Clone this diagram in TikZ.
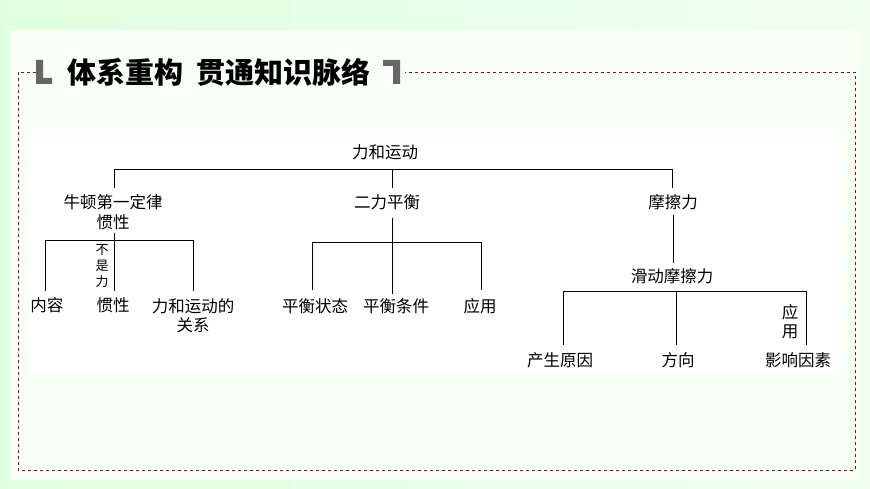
\documentclass[tikz,border=0pt]{standalone}
\usepackage{fontspec}
\newfontfamily\cjk{Noto Sans CJK SC}
\begin{document}
\begin{tikzpicture}[x=1pt,y=-1pt,
  t/.style={font=\cjk\fontsize{16.5}{19}\selectfont,inner sep=0pt,text=black},
  ln/.style={draw=black,line width=0.9pt}]
\useasboundingbox (0,0) rectangle (870,489);
\shade[left color=green!12,right color=green!6] (0,0) rectangle (870,489);
\fill[white!60!green!8] (10,30) rectangle (860,480);
\fill[white] (30,135) rectangle (840,375);
\draw[red!70!black,dashed,line width=0.7pt] (36,72) -- (18,72) -- (18,470) -- (855,470) -- (855,72) -- (405,72);
% title
\fill[gray!80!black] (36,60) rectangle (43,84) (36,78) rectangle (52,84);
\fill[gray!80!black] (393,60) rectangle (400,84) (383,60) rectangle (400,66);
\node[font=\cjk\bfseries\fontsize{29}{32}\selectfont,inner sep=0pt] (title) at (219,72) {体系重构\ \ 贯通知识脉络};
% nodes
\node[t] (root) at (385,152) {力和运动};
\node[t] (n1) at (113,202) {牛顿第一定律};
\node[t] (n1b) at (113,222) {惯性};
\node[t] (n2) at (387,202) {二力平衡};
\node[t] (n3) at (673,202) {摩擦力};
\node[t] (a1) at (47,305) {内容};
\node[t] (a2) at (113,305) {惯性};
\node[t,align=center] (a3) at (193,316) {力和运动的\\关系};
\node[t,align=center,font=\cjk\fontsize{13}{16}\selectfont] (l1) at (102,266) {不\\是\\力};
\node[t] (b1) at (315,306) {平衡状态};
\node[t] (b2) at (396,306) {平衡条件};
\node[t] (b3) at (480,306) {应用};
\node[t] (c0) at (672,276) {滑动摩擦力};
\node[t] (c1) at (560,360) {产生原因};
\node[t] (c2) at (678,360) {方向};
\node[t] (c3) at (798,360) {影响因素};
\node[t,align=center] (l2) at (790,322) {应\\用};
\coordinate (h1) at (114,169); \coordinate (h2) at (672,169); \coordinate (hm) at (392,169);
% connectors
\draw[ln] (114,188) -- (h1) -- (h2) -- (672,188);
\draw[ln] (hm) -- (392,188);
\draw[ln] (45,291) -- (45,240) -- (193,240) -- (193,291);
\draw[ln] (114,233) -- (114,291);
\draw[ln] (392,218) -- (392,294);
\draw[ln] (312,290) -- (312,242) -- (481,242) -- (481,290);
\draw[ln] (673,215) -- (673,263);
\draw[ln] (563,345) -- (563,291) -- (806,291) -- (806,345);
\draw[ln] (676,291) -- (676,345);
\end{tikzpicture}
\end{document}
